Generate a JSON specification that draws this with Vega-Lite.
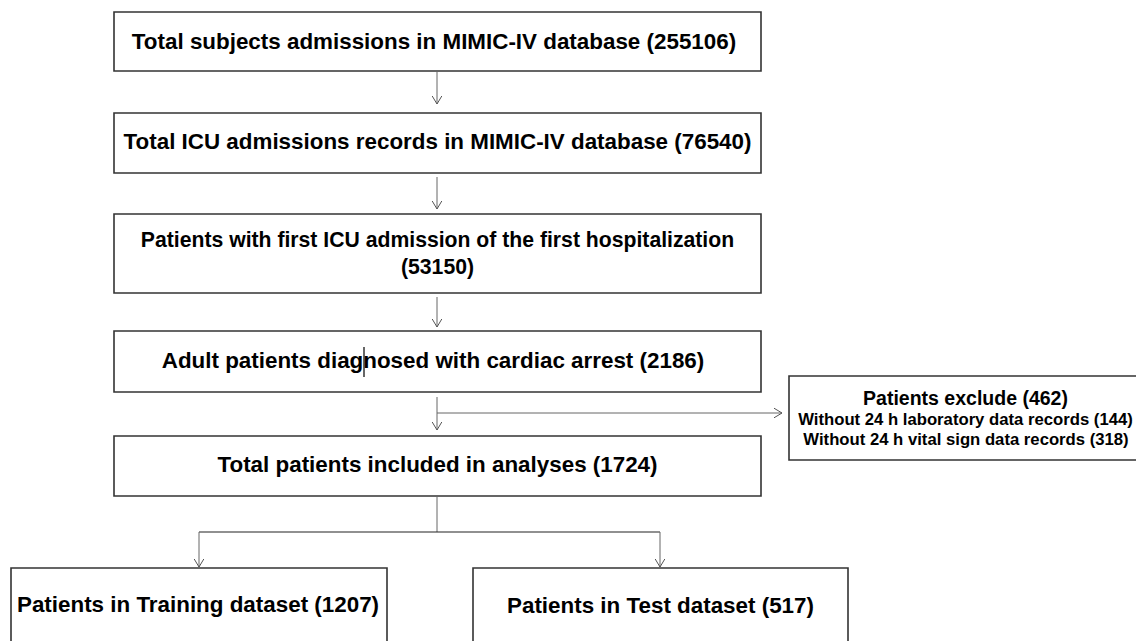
{
  "$schema": "https://vega.github.io/schema/vega-lite/v6.json",
  "width": 1136,
  "height": 641,
  "autosize": "none",
  "padding": 0,
  "background": "white",
  "config": {"view": {"stroke": null}},
  "datasets": {
    "boxes": [
      {"id": "b1", "x1": 114, "x2": 761, "y1": 12, "y2": 71},
      {"id": "b2", "x1": 114, "x2": 761, "y1": 113, "y2": 173},
      {"id": "b3", "x1": 114, "x2": 761, "y1": 214, "y2": 293},
      {"id": "b4", "x1": 114, "x2": 761, "y1": 331, "y2": 392},
      {"id": "b5", "x1": 789, "x2": 1140, "y1": 376, "y2": 460},
      {"id": "b6", "x1": 114, "x2": 761, "y1": 436, "y2": 496},
      {"id": "b7", "x1": 11, "x2": 387, "y1": 568, "y2": 650},
      {"id": "b8", "x1": 473, "x2": 848, "y1": 568, "y2": 650}
    ],
    "lines": [
      {"x1": 437, "x2": 437, "y1": 72, "y2": 104, "kind": "arrow"},
      {"x1": 437, "x2": 437, "y1": 177, "y2": 209, "kind": "arrow"},
      {"x1": 437, "x2": 437, "y1": 297, "y2": 327, "kind": "arrow"},
      {"x1": 437, "x2": 437, "y1": 397, "y2": 430, "kind": "arrow"},
      {"x1": 437, "x2": 782, "y1": 413, "y2": 413, "kind": "arrow"},
      {"x1": 437, "x2": 437, "y1": 496, "y2": 532, "kind": "arrow"},
      {"x1": 199, "x2": 660, "y1": 532, "y2": 532, "kind": "branch"},
      {"x1": 199, "x2": 199, "y1": 532, "y2": 567, "kind": "arrow"},
      {"x1": 660, "x2": 660, "y1": 532, "y2": 567, "kind": "arrow"},
      {"x1": 364, "x2": 364, "y1": 347, "y2": 377, "kind": "cursor"}
    ],
    "heads": [
      {"x": 437, "y": 104, "dir": "down"},
      {"x": 437, "y": 209, "dir": "down"},
      {"x": 437, "y": 327, "dir": "down"},
      {"x": 437, "y": 430, "dir": "down"},
      {"x": 782, "y": 413, "dir": "right"},
      {"x": 199, "y": 567, "dir": "down"},
      {"x": 660, "y": 567, "dir": "down"}
    ],
    "labels": [
      {"x": 434, "y": 42, "text": "Total subjects admissions in MIMIC-IV database (255106)", "size": 22.4},
      {"x": 437.5, "y": 142, "text": "Total ICU admissions records in MIMIC-IV database (76540)", "size": 22.4},
      {"x": 437.5, "y": 241, "text": "Patients with first ICU admission of the first hospitalization", "size": 21.2},
      {"x": 437.5, "y": 267.5, "text": "(53150)", "size": 21.2},
      {"x": 433, "y": 361, "text": "Adult patients diagnosed with cardiac arrest (2186)", "size": 22.4},
      {"x": 965.5, "y": 398.5, "text": "Patients exclude (462)", "size": 19.5},
      {"x": 965.5, "y": 419.5, "text": "Without 24 h laboratory data records (144)", "size": 16.7},
      {"x": 966, "y": 439.5, "text": "Without 24 h vital sign data records (318)", "size": 16.7},
      {"x": 437.5, "y": 465, "text": "Total patients included in analyses (1724)", "size": 22.4},
      {"x": 198, "y": 605, "text": "Patients in Training dataset (1207)", "size": 22.4},
      {"x": 660.5, "y": 605.5, "text": "Patients in Test dataset (517)", "size": 22.4}
    ]
  },
  "layer": [
    {
      "data": {"name": "boxes"},
      "mark": {"type": "rect", "fill": "white", "stroke": "#333333", "strokeWidth": 1.6},
      "encoding": {
        "x": {"field": "x1", "type": "quantitative", "scale": {"domain": [0, 1136], "nice": false, "zero": false}, "axis": null},
        "x2": {"field": "x2"},
        "y": {"field": "y1", "type": "quantitative", "scale": {"domain": [0, 641], "nice": false, "zero": false, "reverse": true}, "axis": null},
        "y2": {"field": "y2"}
      }
    },
    {
      "data": {"name": "lines"},
      "mark": {"type": "rule"},
      "encoding": {
        "x": {"field": "x1", "type": "quantitative"},
        "x2": {"field": "x2"},
        "y": {"field": "y1", "type": "quantitative"},
        "y2": {"field": "y2"},
        "color": {"field": "kind", "type": "nominal", "scale": {"domain": ["arrow", "branch", "cursor"], "range": ["#666666", "#222222", "#000000"]}, "legend": null},
        "strokeWidth": {"field": "kind", "type": "nominal", "scale": {"domain": ["arrow", "branch", "cursor"], "range": [1, 1.2, 1.2]}, "legend": null}
      }
    },
    {
      "data": {"name": "heads"},
      "mark": {"type": "point", "filled": false, "opacity": 1, "stroke": "#555555", "strokeWidth": 1, "size": 256},
      "encoding": {
        "x": {"field": "x", "type": "quantitative"},
        "y": {"field": "y", "type": "quantitative"},
        "shape": {"field": "dir", "type": "nominal", "scale": {"domain": ["down", "right"], "range": ["M -0.6 -1 L 0 0 L 0.6 -1", "M -1 -0.6 L 0 0 L -1 0.6"]}, "legend": null}
      }
    },
    {
      "data": {"name": "labels"},
      "mark": {"type": "text", "font": "Liberation Sans", "fontWeight": "bold", "color": "black", "align": "center", "baseline": "middle"},
      "encoding": {
        "x": {"field": "x", "type": "quantitative"},
        "y": {"field": "y", "type": "quantitative"},
        "text": {"field": "text", "type": "nominal"},
        "size": {"field": "size", "type": "quantitative", "scale": null, "legend": null}
      }
    }
  ]
}
